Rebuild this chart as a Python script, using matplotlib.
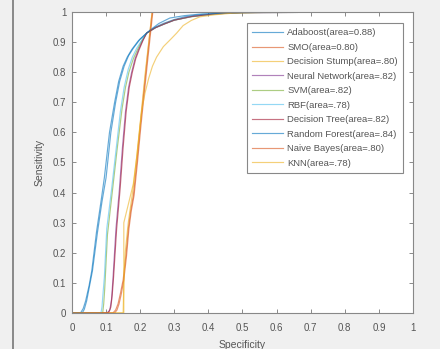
"""ROC-style sensitivity/specificity curves for ten classifiers."""

import matplotlib

matplotlib.use("Agg")
import matplotlib.pyplot as plt
from matplotlib.lines import Line2D

plt.rcParams["font.family"] = ["Liberation Sans", "DejaVu Sans"]

labels = [
    "Adaboost(area=0.88)",
    "SMO(area=0.80)",
    "Decision Stump(area=.80)",
    "Neural Network(area=.82)",
    "SVM(area=.82)",
    "RBF(area=.78)",
    "Decision Tree(area=.82)",
    "Random Forest(area=.84)",
    "Naive Bayes(area=.80)",
    "KNN(area=.78)",
]
colors = [
    "#0072BD", "#D95319", "#EDB120", "#7E2F8E", "#77AC30",
    "#4DBEEE", "#A2142F", "#0072BD", "#D95319", "#EDB120",
]

# (specificity, sensitivity) points
adaboost_x = [0, 0.025, 0.033, 0.04, 0.05, 0.058, 0.072, 0.085, 0.095, 0.11, 0.125, 0.137, 0.15, 0.162, 0.175, 0.195, 0.219, 0.245, 0.27, 0.3, 0.33, 0.38, 0.45, 0.6, 1]
adaboost_y = [0, 0, 0.015, 0.04, 0.09, 0.14, 0.27, 0.37, 0.45, 0.6, 0.7, 0.77, 0.82, 0.85, 0.875, 0.905, 0.93, 0.95, 0.963, 0.975, 0.984, 0.992, 0.997, 1, 1]

smo_x = [0, 0.12, 0.128, 0.135, 0.142, 0.15, 0.158, 0.165, 0.172, 0.18, 0.19, 0.2, 0.21, 0.22, 0.235, 1]
smo_y = [0, 0, 0.01, 0.03, 0.065, 0.11, 0.19, 0.28, 0.34, 0.39, 0.5, 0.62, 0.73, 0.84, 1, 1]

stump_x = [0, 0.152, 0.152, 0.165, 0.18, 0.19, 0.2, 0.215, 0.235, 1]
stump_y = [0, 0, 0.3, 0.36, 0.43, 0.52, 0.63, 0.8, 1, 1]

nn_x = [0, 0.1, 0.106, 0.111, 0.116, 0.12, 0.129, 0.139, 0.148, 0.157, 0.166, 0.175, 0.185, 0.195, 0.207, 0.219, 0.245, 0.27, 0.3, 0.35, 0.42, 0.5, 1]
nn_y = [0, 0, 0.003, 0.01, 0.045, 0.11, 0.28, 0.41, 0.55, 0.67, 0.75, 0.8, 0.845, 0.875, 0.905, 0.93, 0.948, 0.96, 0.973, 0.985, 0.994, 0.998, 1]

svm_x = [0, 0.09, 0.093, 0.096, 0.104, 0.118, 0.132, 0.147, 0.157, 0.167, 0.18, 0.192, 0.205, 0.219, 0.245, 0.27, 0.3, 0.35, 0.42, 0.5, 1]
svm_y = [0, 0, 0.03, 0.08, 0.26, 0.4, 0.54, 0.68, 0.75, 0.8, 0.845, 0.875, 0.905, 0.93, 0.948, 0.96, 0.973, 0.984, 0.994, 0.998, 1]

rbf_x = [0, 0.085, 0.088, 0.09, 0.095, 0.102, 0.116, 0.13, 0.142, 0.153, 0.165, 0.177, 0.19, 0.204, 0.219, 0.245, 0.27, 0.3, 0.35, 0.42, 0.5, 1]
rbf_y = [0, 0, 0.02, 0.05, 0.12, 0.28, 0.41, 0.55, 0.67, 0.75, 0.81, 0.85, 0.88, 0.905, 0.93, 0.948, 0.96, 0.973, 0.985, 0.994, 0.998, 1]

tree_x = [0, 0.104, 0.109, 0.114, 0.118, 0.122, 0.131, 0.141, 0.15, 0.159, 0.168, 0.177, 0.187, 0.197, 0.208, 0.219, 0.245, 0.27, 0.3, 0.35, 0.42, 0.5, 1]
tree_y = [0, 0, 0.005, 0.02, 0.06, 0.12, 0.28, 0.41, 0.55, 0.67, 0.75, 0.8, 0.845, 0.875, 0.905, 0.93, 0.948, 0.96, 0.973, 0.985, 0.994, 0.998, 1]

forest_x = [0, 0.03, 0.036, 0.043, 0.06, 0.075, 0.088, 0.1, 0.114, 0.128, 0.14, 0.153, 0.166, 0.18, 0.2, 0.219, 0.229, 0.255, 0.287, 0.33, 0.375, 0.5, 0.67, 1]
forest_y = [0, 0, 0.012, 0.04, 0.14, 0.27, 0.37, 0.45, 0.6, 0.7, 0.77, 0.82, 0.855, 0.88, 0.91, 0.93, 0.94, 0.962, 0.98, 0.988, 0.993, 0.998, 1, 1]

bayes_x = [0, 0.125, 0.132, 0.138, 0.145, 0.152, 0.16, 0.167, 0.174, 0.182, 0.192, 0.202, 0.212, 0.222, 0.237, 1]
bayes_y = [0, 0, 0.01, 0.03, 0.065, 0.11, 0.19, 0.28, 0.34, 0.39, 0.5, 0.62, 0.73, 0.84, 1, 1]

knn_x = [0, 0.15, 0.152, 0.156, 0.165, 0.18, 0.19, 0.204, 0.214, 0.225, 0.236, 0.248, 0.268, 0.29, 0.307, 0.326, 0.35, 0.375, 0.42, 0.47, 0.6, 1]
knn_y = [0, 0, 0.1, 0.2, 0.3, 0.42, 0.52, 0.67, 0.73, 0.78, 0.82, 0.85, 0.885, 0.91, 0.93, 0.955, 0.972, 0.984, 0.991, 0.996, 1, 1]

curves = [
    (adaboost_x, adaboost_y), (smo_x, smo_y), (stump_x, stump_y), (nn_x, nn_y),
    (svm_x, svm_y), (rbf_x, rbf_y), (tree_x, tree_y), (forest_x, forest_y),
    (bayes_x, bayes_y), (knn_x, knn_y),
]

fig = plt.figure(figsize=(4.4, 3.49), dpi=100, facecolor="#f0f0f0")
ax = fig.add_axes([0.1636, 0.1032, 0.775, 0.8624])
ax.set_facecolor("white")

for (xs, ys), color, label in zip(curves, colors, labels):
    ax.plot(xs, ys, color=color, linewidth=0.85, alpha=0.6, label=label)

ax.set_xlim(0, 1)
ax.set_ylim(0, 1)
ticks = [i / 10 for i in range(11)]
tick_labels = ["0"] + [f"{t:.1f}" for t in ticks[1:-1]] + ["1"]
ax.set_xticks(ticks, tick_labels)
ax.set_yticks(ticks, tick_labels)
ax.tick_params(direction="in", top=True, right=True, length=3, width=0.6,
               labelsize=7, colors="#777777", labelcolor="#555555", pad=4)
ax.tick_params(axis="x", pad=7)
for spine in ax.spines.values():
    spine.set_color("#888888")
    spine.set_linewidth(0.8)

ax.set_xlabel("Specificity", fontsize=7.5, color="#555555", labelpad=5)
ax.set_ylabel("Sensitivity", fontsize=7.5, color="#555555", labelpad=6)

leg = ax.legend(loc="upper right", bbox_to_anchor=(0.971, 0.963), borderaxespad=0,
                fontsize=6.8, handlelength=3.2, labelspacing=0.58, fancybox=False,
                framealpha=1, edgecolor="#888888", borderpad=0.55, handletextpad=0.5)
leg.get_frame().set_linewidth(0.8)
for text in leg.get_texts():
    text.set_color("#555555")

fig.add_artist(Line2D([13 / 440, 13 / 440], [0, 1], color="#777777", linewidth=1.2))

fig.savefig("out.png", dpi=100, facecolor=fig.get_facecolor())
